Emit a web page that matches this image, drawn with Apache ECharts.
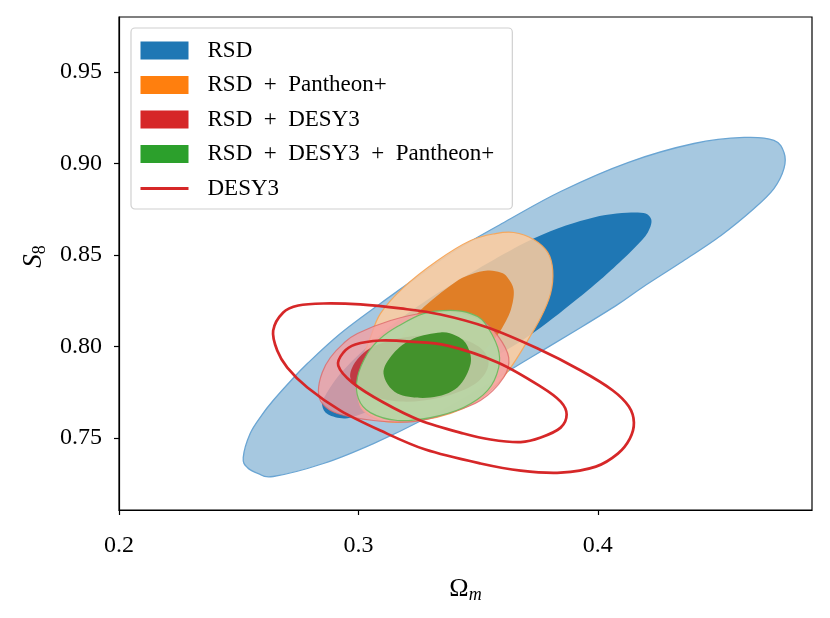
<!DOCTYPE html>
<html>
<head>
<meta charset="utf-8">
<script src="https://cdn.jsdelivr.net/npm/echarts@6/dist/echarts.min.js"></script>
<style>
  html, body { margin: 0; padding: 0; background: #fff; }
  #chart { width: 830px; height: 618px; }
</style>
</head>
<body>
<div id="chart"></div>
<script>
// ticks
var xTicks = [0.2, 0.3, 0.4]
var yTicks = [0.75, 0.80, 0.85, 0.90, 0.95]

// contours, [Omega_m, S8]
// RSD
var rsdOuter = [
  [0.2519, 0.7393], [0.2548, 0.7525], [0.2598, 0.7628], [0.2644, 0.7705], [0.2715, 0.7809],
  [0.2787, 0.7907], [0.2925, 0.8071], [0.3092, 0.8235], [0.3238, 0.8372], [0.3397, 0.8519],
  [0.3615, 0.8683], [0.3845, 0.8847], [0.4126, 0.9005], [0.4402, 0.9109], [0.4611, 0.9142],
  [0.4736, 0.9126], [0.4778, 0.9060], [0.4778, 0.8973], [0.4736, 0.8863], [0.4653, 0.8754],
  [0.4515, 0.8607], [0.4347, 0.8459], [0.4192, 0.8328], [0.4084, 0.8230], [0.3929, 0.8104],
  [0.3720, 0.7940], [0.3510, 0.7776], [0.3280, 0.7607], [0.3063, 0.7470], [0.2854, 0.7361],
  [0.2644, 0.7290], [0.2582, 0.7306], [0.2536, 0.7339]
]
var rsdInner = [
  [0.4167, 0.8732], [0.4222, 0.8699], [0.4209, 0.8623], [0.4151, 0.8536], [0.4054, 0.8415],
  [0.3958, 0.8306], [0.3762, 0.8104], [0.3594, 0.7962], [0.3385, 0.7825], [0.3176, 0.7716],
  [0.3029, 0.7639], [0.2946, 0.7607], [0.2874, 0.7628], [0.2849, 0.7678], [0.2862, 0.7732],
  [0.2925, 0.7852], [0.3029, 0.7989], [0.3176, 0.8153], [0.3397, 0.8344], [0.3732, 0.8590],
  [0.3983, 0.8705]
]
// RSD + Pantheon+
var panOuter = [
  [0.3649, 0.8623], [0.3732, 0.8585], [0.3791, 0.8514], [0.3812, 0.8415], [0.3803, 0.8290],
  [0.3762, 0.8158], [0.3690, 0.7995], [0.3636, 0.7885], [0.3573, 0.7787], [0.3490, 0.7699],
  [0.3385, 0.7634], [0.3259, 0.7596], [0.3113, 0.7590], [0.3021, 0.7650], [0.2996, 0.7743],
  [0.3000, 0.7842], [0.3021, 0.7945], [0.3050, 0.8049], [0.3092, 0.8180], [0.3188, 0.8322],
  [0.3331, 0.8470], [0.3469, 0.8579], [0.3573, 0.8617]
]
var panInner = [
  [0.3540, 0.8415], [0.3594, 0.8404], [0.3623, 0.8377], [0.3649, 0.8306], [0.3636, 0.8197],
  [0.3594, 0.8087], [0.3552, 0.8016], [0.3477, 0.7913], [0.3364, 0.7825], [0.3238, 0.7787],
  [0.3167, 0.7842], [0.3155, 0.7951], [0.3184, 0.8060], [0.3259, 0.8197], [0.3397, 0.8344],
  [0.3469, 0.8393]
]
// RSD + DESY3
var desOuter = [
  [0.2833, 0.7760], [0.2849, 0.7858], [0.2883, 0.7940], [0.2937, 0.8016], [0.2996, 0.8071],
  [0.3134, 0.8142], [0.3280, 0.8186], [0.3397, 0.8191], [0.3510, 0.8148], [0.3582, 0.8060],
  [0.3628, 0.7940], [0.3607, 0.7831], [0.3510, 0.7705], [0.3372, 0.7634], [0.3230, 0.7590],
  [0.3063, 0.7596], [0.2912, 0.7634], [0.2849, 0.7689]
]
var desInner = [
  [0.2967, 0.7825], [0.2992, 0.7923], [0.3071, 0.8005], [0.3218, 0.8055], [0.3385, 0.8055],
  [0.3502, 0.8000], [0.3544, 0.7907], [0.3490, 0.7798], [0.3343, 0.7721], [0.3176, 0.7699],
  [0.3029, 0.7743]
]
// RSD + DESY3 + Pantheon+
var allOuter = [
  [0.3385, 0.8197], [0.3469, 0.8180], [0.3527, 0.8131], [0.3582, 0.7995], [0.3586, 0.7885],
  [0.3540, 0.7760], [0.3439, 0.7667], [0.3301, 0.7612], [0.3163, 0.7596], [0.3050, 0.7639],
  [0.3000, 0.7716], [0.2996, 0.7831], [0.3038, 0.7962], [0.3092, 0.8044], [0.3163, 0.8109],
  [0.3272, 0.8180]
]
var allInner = [
  [0.3343, 0.8077], [0.3406, 0.8060], [0.3452, 0.8011], [0.3469, 0.7907], [0.3414, 0.7776],
  [0.3301, 0.7721], [0.3163, 0.7743], [0.3105, 0.7852], [0.3146, 0.7962], [0.3230, 0.8044]
]
// DESY3 alone (lines)
var desy3Outer = [
  [0.2644, 0.8087], [0.2686, 0.8186], [0.2749, 0.8224], [0.2854, 0.8235], [0.3008, 0.8230],
  [0.3176, 0.8208], [0.3343, 0.8175], [0.3540, 0.8104], [0.3749, 0.7989], [0.3929, 0.7869],
  [0.4063, 0.7760], [0.4130, 0.7672], [0.4151, 0.7585], [0.4134, 0.7497], [0.4084, 0.7415],
  [0.3992, 0.7344], [0.3845, 0.7311], [0.3678, 0.7322], [0.3510, 0.7361], [0.3280, 0.7437],
  [0.3092, 0.7541], [0.2925, 0.7650], [0.2787, 0.7776], [0.2703, 0.7885], [0.2661, 0.7978]
]
var desy3Inner = [
  [0.2916, 0.7896], [0.2937, 0.7967], [0.2987, 0.8011], [0.3092, 0.8033], [0.3218, 0.8027],
  [0.3372, 0.8005], [0.3582, 0.7913], [0.3762, 0.7781], [0.3845, 0.7699], [0.3870, 0.7628],
  [0.3845, 0.7557], [0.3762, 0.7503], [0.3678, 0.7478], [0.3552, 0.7492], [0.3439, 0.7525],
  [0.3259, 0.7596], [0.3105, 0.7694], [0.2975, 0.7803]
]

var serif = 'Liberation Serif'

// closed curve through the pixel points (catmull-rom as cubic beziers)
function loopPath(p) {
  var n = p.length
  var d = 'M' + p[0][0] + ' ' + p[0][1]
  for (var i = 0; i < n; i++) {
    var a = p[(i - 1 + n) % n], b = p[i], c = p[(i + 1) % n], e = p[(i + 2) % n]
    var c1x = b[0] + (c[0] - a[0]) / 6, c1y = b[1] + (c[1] - a[1]) / 6
    var c2x = c[0] - (e[0] - b[0]) / 6, c2y = c[1] - (e[1] - b[1]) / 6
    d += 'C' + c1x + ' ' + c1y + ' ' + c2x + ' ' + c2y + ' ' + c[0] + ' ' + c[1]
  }
  return d + 'Z'
}

function contours(name, color, levels, styles, z) {
  return {
    name: name,
    type: 'custom',
    z: z,
    itemStyle: { color: color },
    data: levels.map(function (pts, i) { return [pts[0][0], pts[0][1], i] }),
    encode: { x: 0, y: 1 },
    renderItem: function (params, api) {
      var pts = levels[params.dataIndex].map(function (p) { return api.coord(p) })
      var st = styles[params.dataIndex]
      return {
        type: 'path',
        shape: { pathData: loopPath(pts) },
        style: { fill: st.fill || 'none', stroke: st.stroke || null, lineWidth: st.lw || 0 }
      }
    }
  }
}

var chart = echarts.init(document.getElementById('chart'))

var option = {
  animation: false,
  grid: { left: 119, right: 18, top: 17, bottom: 108, show: true, borderColor: '#000', borderWidth: 1.2 },
  legend: {
    orient: 'vertical',
    left: 131,
    top: 28,
    padding: [11, 18, 9, 8],
    itemWidth: 48,
    itemHeight: 18,
    itemGap: 11.5,
    backgroundColor: 'rgba(255,255,255,0.85)',
    borderColor: '#d0d0d0',
    borderWidth: 1.2,
    borderRadius: 4,
    textStyle: { fontFamily: serif, fontSize: 23, color: '#000', padding: [0, 0, 0, 14] },
    formatter: function (n) { return n.split(' + ').join('\u2002+\u2002') },
    data: [
      { name: 'RSD', icon: 'rect' },
      { name: 'RSD + Pantheon+', icon: 'rect' },
      { name: 'RSD + DESY3', icon: 'rect' },
      { name: 'RSD + DESY3 + Pantheon+', icon: 'rect' },
      { name: 'DESY3', itemStyle: { opacity: 0 }, lineStyle: { width: 3, color: '#d62728' } }
    ]
  },
  xAxis: {
    type: 'value',
    min: 0.2,
    max: 0.4895,
    axisLine: { onZero: false, lineStyle: { color: '#000', width: 1.2 } },
    axisTick: { customValues: xTicks, length: 5, lineStyle: { color: '#000', width: 1.2 } },
    axisLabel: {
      customValues: xTicks, margin: 24, color: '#000', fontFamily: serif, fontSize: 24,
      formatter: function (v) { return v.toFixed(1) }
    },
    splitLine: { show: false },
    name: '{o|\u03A9}{sub|m}',
    nameLocation: 'middle',
    nameGap: 64,
    nameTextStyle: {
      rich: {
        o: { fontFamily: serif, fontSize: 26, color: '#000', lineHeight: 30 },
        sub: { fontFamily: serif, fontSize: 18, fontStyle: 'italic', color: '#000', verticalAlign: 'bottom', lineHeight: 16 }
      }
    }
  },
  yAxis: {
    type: 'value',
    min: 0.7107,
    max: 0.98,
    axisLine: { onZero: false, lineStyle: { color: '#000', width: 1.2 } },
    axisTick: { customValues: yTicks, length: 5, lineStyle: { color: '#000', width: 1.2 } },
    axisLabel: {
      customValues: yTicks, margin: 17, color: '#000', fontFamily: serif, fontSize: 24,
      formatter: function (v) { return v.toFixed(2) }
    },
    splitLine: { show: false },
    name: '{s|S}{sub|8}',
    nameLocation: 'middle',
    nameRotate: 90,
    nameGap: 70,
    nameTextStyle: {
      padding: [0, 0, 0, 14],
      rich: {
        s: { fontFamily: serif, fontSize: 27, fontStyle: 'italic', color: '#000', lineHeight: 30 },
        sub: { fontFamily: serif, fontSize: 18, color: '#000', verticalAlign: 'bottom', lineHeight: 16 }
      }
    }
  },
  series: [
    // empty line series only gives DESY3 its line icon in the legend
    { name: 'DESY3', type: 'line', data: [], symbol: 'none', color: '#d62728', lineStyle: { color: '#d62728', width: 3 } },
    contours('RSD', '#1f77b4', [rsdOuter, rsdInner], [
      { fill: '#a6c8e0', stroke: '#6aa5d3', lw: 1.3 },
      { fill: '#1f77b4' }
    ], 2),
    contours('RSD + Pantheon+', '#ff7f0e', [panOuter, panInner], [
      { fill: 'rgba(255,204,158,0.85)', stroke: 'rgba(245,165,90,0.95)', lw: 1.2 },
      { fill: '#e07e26' }
    ], 3),
    contours('RSD + DESY3', '#d62728', [desOuter, desInner], [
      { fill: 'rgba(244,160,162,0.8)', stroke: 'rgba(220,100,100,0.75)', lw: 1.2 },
      { fill: 'rgba(190,40,50,0.85)' }
    ], 4),
    contours('RSD + DESY3 + Pantheon+', '#2ca02c', [allOuter, allInner], [
      { fill: 'rgba(178,218,165,0.88)', stroke: 'rgba(110,185,95,0.95)', lw: 1.2 },
      { fill: '#43922c' }
    ], 5),
    contours('DESY3', '#d62728', [desy3Outer, desy3Inner], [
      { stroke: '#d62728', lw: 2.7 },
      { stroke: '#d62728', lw: 2.7 }
    ], 6)
  ]
}
chart.setOption(option)
</script>
</body>
</html>
